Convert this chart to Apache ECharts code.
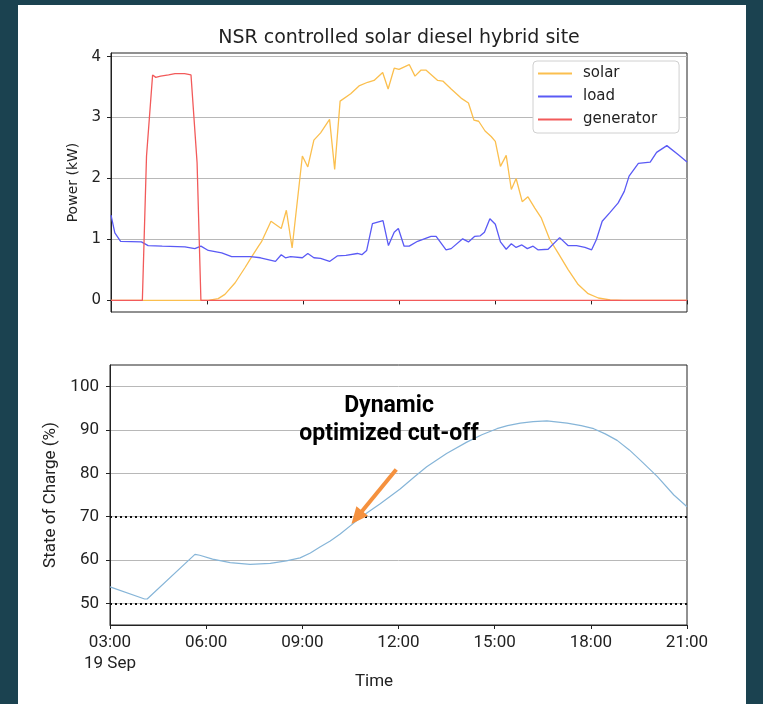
<!DOCTYPE html>
<html>
<head>
<meta charset="utf-8">
<script src="https://cdn.jsdelivr.net/npm/echarts@6/dist/echarts.min.js"></script>
<style>
html,body{margin:0;padding:0;background:#1b4250;}
#chart{width:763px;height:704px;}
</style>
</head>
<body>
<div id="chart"></div>
<script>
// ---- data (time in hours of 19 Sep) ----
const solarT = [3.0,6.04,6.35,6.56,6.88,7.19,7.40,7.61,7.70,8.0,8.32,8.48,8.66,8.98,9.15,9.34,9.55,9.83,9.99,10.16,10.49,10.75,11.02,11.22,11.49,11.66,11.85,12.0,12.32,12.5,12.69,12.84,13.21,13.37,13.63,13.94,14.17,14.34,14.49,14.69,14.88,15.01,15.17,15.35,15.51,15.66,15.85,16.03,16.24,16.45,16.71,16.97,17.28,17.60,17.91,18.23,18.6,19.0,21.0];
const solarV = [0,0,0.03,0.10,0.29,0.54,0.72,0.89,0.96,1.30,1.18,1.48,0.86,2.37,2.19,2.63,2.75,2.97,2.15,3.27,3.39,3.52,3.58,3.61,3.74,3.47,3.81,3.79,3.87,3.68,3.78,3.78,3.61,3.60,3.47,3.32,3.24,2.96,2.94,2.78,2.69,2.61,2.20,2.38,1.82,2.00,1.62,1.70,1.52,1.35,1.00,0.78,0.51,0.26,0.11,0.04,0.01,0,0];

const loadT = [3.0,3.12,3.30,3.95,4.16,4.6,5.31,5.62,5.81,6.04,6.46,6.77,7.36,7.67,8.14,8.32,8.45,8.61,8.98,9.15,9.34,9.55,9.83,10.07,10.34,10.70,10.84,10.99,11.17,11.50,11.67,11.85,11.98,12.16,12.32,12.58,13.0,13.16,13.47,13.63,13.99,14.17,14.36,14.54,14.67,14.84,15.01,15.17,15.35,15.51,15.66,15.84,16.01,16.19,16.34,16.66,17.02,17.28,17.55,17.81,18.02,18.17,18.35,18.59,18.85,19.04,19.19,19.48,19.85,20.05,20.37,20.73,21.0];
const loadV = [1.40,1.11,0.97,0.96,0.90,0.89,0.88,0.85,0.89,0.82,0.78,0.72,0.72,0.70,0.64,0.75,0.70,0.72,0.70,0.77,0.70,0.69,0.64,0.73,0.74,0.77,0.75,0.82,1.26,1.31,0.90,1.12,1.18,0.89,0.89,0.97,1.05,1.05,0.83,0.85,1.01,0.96,1.05,1.06,1.12,1.34,1.25,0.96,0.84,0.93,0.87,0.91,0.85,0.89,0.83,0.84,1.03,0.90,0.90,0.87,0.83,1.00,1.30,1.44,1.60,1.79,2.04,2.25,2.27,2.43,2.54,2.39,2.27];

const genT = [3.0,3.98,4.11,4.30,4.40,4.55,4.8,5.0,5.3,5.50,5.69,5.81,21.0];
const genV = [0,0,2.37,3.70,3.66,3.68,3.70,3.72,3.72,3.70,2.26,0,0];

const socT = [3.0,4.08,4.16,5.65,5.80,6.2,6.75,7.37,8.0,8.5,8.93,9.25,9.55,9.87,10.18,10.65,11.0,11.43,12.05,12.5,12.88,13.5,14.13,14.6,15.07,15.4,15.80,16.2,16.63,17.26,17.7,18.09,18.45,18.82,19.2,19.55,20.07,20.59,21.0];
const socV = [53.8,51.0,51.0,61.3,61.1,60.2,59.4,59.0,59.2,59.8,60.5,61.6,63.0,64.4,66.0,68.8,70.8,73.0,76.4,79.2,81.5,84.6,87.2,88.9,90.3,91.0,91.6,91.95,92.1,91.6,91.0,90.3,89.1,87.6,85.4,83.0,79.3,75.0,72.3];

const powerTicks = [0,1,2,3,4];
const socTicks = [50,60,70,80,90,100];
const socLimits = [70,50];
const timeTickLabels = ['03:00\n19 Sep','06:00','09:00','12:00','15:00','18:00','21:00'];
const seriesNames = ['solar','load','generator'];
const titleText = 'NSR controlled solar diesel hybrid site';
const annotationLines = ['Dynamic','optimized cut-off'];

const zip = (t, v) => t.map((x, i) => [x, v[i]]);

const chart = echarts.init(document.getElementById('chart'));
const axisLineStyle = {show:true, lineStyle:{color:'#222', width:1}};
const splitStyle = {show:true, lineStyle:{color:'#b8b8b8', width:1}};

const option = {
  backgroundColor: '#1b4250',
  animation: false,
  graphic: [
    {type:'rect', z:-100, shape:{x:18, y:5, width:728, height:705}, style:{fill:'#ffffff'}},
    {type:'text', x:399, y:38, style:{text:titleText, align:'center', verticalAlign:'middle', fontFamily:'DejaVu Sans', fontSize:19, fill:'#222'}},
    {type:'text', x:374, y:682, style:{text:'Time', align:'center', verticalAlign:'middle', fontFamily:'Roboto', fontSize:17, fill:'#222'}},
    {type:'text', x:389, y:406, z:50, style:{text:annotationLines[0], align:'center', verticalAlign:'middle', fontFamily:'Roboto', fontWeight:'bold', fontSize:23, fill:'#000'}},
    {type:'text', x:389, y:434, z:50, style:{text:annotationLines[1], align:'center', verticalAlign:'middle', fontFamily:'Roboto', fontWeight:'bold', fontSize:23, fill:'#000'}}
  ],
  legend: {
    data: seriesNames,
    orient: 'vertical',
    left: 533, top: 61,
    padding: [5, 22, 6, 5],
    itemGap: 8,
    itemWidth: 34, itemHeight: 2,
    icon: 'rect',
    backgroundColor: '#fff',
    borderColor: '#d0d0d0', borderWidth: 1, borderRadius: 4,
    textStyle: {fontFamily:'DejaVu Sans', fontSize:15, color:'#222', padding:[0,0,0,6]}
  },
  grid: [
    {left:111, right:76, top:53, height:259, show:true, borderColor:'#222', borderWidth:1, backgroundColor:'#fff'},
    {left:110, right:76, top:365, height:260, show:true, borderColor:'#222', borderWidth:1, backgroundColor:'#fff'}
  ],
  xAxis: [
    {gridIndex:0, type:'value', min:3, max:21, interval:3,
     axisLine:axisLineStyle, axisTick:{show:true, inside:false, length:4, lineStyle:{color:'#222'}},
     axisLabel:{show:false}, splitLine:{show:false}},
    {gridIndex:1, type:'value', min:3, max:21, interval:3,
     axisLine:axisLineStyle, axisTick:{show:true, inside:false, length:4, lineStyle:{color:'#222'}},
     axisLabel:{show:true, margin:7, fontFamily:'Roboto', fontSize:17, color:'#222', lineHeight:21,
       formatter: v => timeTickLabels[Math.round((v - 3) / 3)]},
     splitLine:{show:false}}
  ],
  yAxis: [
    {gridIndex:0, type:'value', min:-0.19, max:4.06,
     name:'Power (kW)', nameLocation:'middle', nameGap:31, nameRotate:90,
     nameTextStyle:{fontFamily:'DejaVu Sans', fontSize:14, color:'#222'},
     axisLine:axisLineStyle,
     axisTick:{show:true, inside:false, length:4, lineStyle:{color:'#222'}, customValues:powerTicks},
     axisLabel:{show:true, margin:10, fontFamily:'DejaVu Sans', fontSize:15, color:'#222', customValues:powerTicks},
     splitLine:splitStyle},
    {gridIndex:1, type:'value', min:45, max:105,
     name:'State of Charge (%)', nameLocation:'middle', nameGap:44, nameRotate:90,
     nameTextStyle:{fontFamily:'Roboto', fontSize:17, color:'#222'},
     axisLine:axisLineStyle,
     axisTick:{show:true, inside:false, length:4, lineStyle:{color:'#222'}, customValues:socTicks},
     axisLabel:{show:true, margin:11, fontFamily:'Roboto', fontSize:17, color:'#222', customValues:socTicks},
     splitLine:splitStyle}
  ],
  series: [
    {name:seriesNames[0], type:'line', xAxisIndex:0, yAxisIndex:0, data:zip(solarT, solarV),
     showSymbol:false, symbol:'none', lineStyle:{color:'#fbbf4e', width:1.3}, itemStyle:{color:'#fbbf4e'}},
    {name:seriesNames[1], type:'line', xAxisIndex:0, yAxisIndex:0, data:zip(loadT, loadV),
     showSymbol:false, symbol:'none', lineStyle:{color:'#5a5af5', width:1.3}, itemStyle:{color:'#5a5af5'}},
    {name:seriesNames[2], type:'line', xAxisIndex:0, yAxisIndex:0, data:zip(genT, genV), z:3,
     showSymbol:false, symbol:'none', lineStyle:{color:'#f25a5a', width:1.3}, itemStyle:{color:'#f25a5a'}},
    {name:'soc', type:'line', xAxisIndex:1, yAxisIndex:1, data:zip(socT, socV),
     showSymbol:false, symbol:'none', smooth:false, lineStyle:{color:'#86b5d8', width:1.2},
     markLine:{
       silent:true, animation:false, symbol:'none', label:{show:false},
       data:[
         ...socLimits.map(v => ({yAxis:v, lineStyle:{color:'#111', width:2, type:[2,3]}})),
         [
           {coord:[11.93, 80.9], symbol:'none', lineStyle:{color:'#f5913e', width:4, type:'solid'}},
           {coord:[10.70, 69.8], symbol:'triangle', symbolSize:[15,17], lineStyle:{color:'#f5913e', width:4, type:'solid'}, itemStyle:{color:'#f5913e'}}
         ]
       ]
     }}
  ]
};
chart.setOption(option);
</script>
</body>
</html>
